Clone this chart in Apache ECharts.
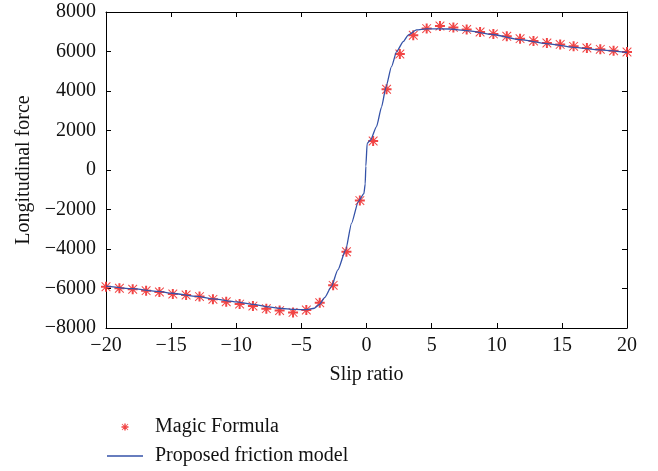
<!DOCTYPE html>
<html>
<head>
<meta charset="utf-8">
<script src="https://cdn.jsdelivr.net/npm/echarts@6/dist/echarts.min.js"></script>
<style>
html,body{margin:0;padding:0;background:#fff;}
#c{width:658px;height:471px;}
</style>
</head>
<body>
<div id="c"></div>
<script>
// Magic Formula samples (slip ratio, longitudinal force)
const mfX = [-20, -18.97, -17.95, -16.92, -15.90, -14.87, -13.85, -12.82, -11.79, -10.77,
  -9.74, -8.72, -7.69, -6.67, -5.64, -4.62, -3.59, -2.56, -1.54, -0.51,
  0.51, 1.54, 2.56, 3.59, 4.62, 5.64, 6.67, 7.69, 8.72, 9.74,
  10.77, 11.79, 12.82, 13.85, 14.87, 15.90, 16.92, 17.95, 18.97, 20];
const mfY = [-5910, -5990, -6040, -6110, -6180, -6280, -6330, -6410, -6550, -6670,
  -6790, -6890, -7020, -7120, -7210, -7090, -6720, -5840, -4140, -1550,
  1470, 4090, 5870, 6820, 7160, 7290, 7220, 7120, 6990, 6890,
  6770, 6650, 6530, 6430, 6360, 6260, 6180, 6110, 6040, 5975];

// Proposed friction model curve
const pmX = [-20, -18, -16, -14.9, -13, -11.8, -10, -8.7, -7.5, -6.7, -5.5, -4.6, -4.0, -3.6, -3.2,
  -2.7, -2.2, -1.6, -1.15, -0.63, -0.2, -0.1, -0.05, 0.05, 0.31, 0.77, 1.16, 1.5, 1.92, 2.31,
  2.82, 3.2, 3.84, 4.6, 6.4, 7.7, 9.7, 11.8, 13.8, 15.9, 17.9, 20];
const pmY = [-5880, -6010, -6150, -6240, -6400, -6530, -6680, -6800, -6930, -7000, -7060, -7070, -7000, -6800, -6450,
  -5900, -5060, -4050, -2700, -1600, -1200, -700, 200, 1350, 1520, 2200, 3200, 4220, 5230, 5990,
  6500, 6830, 7090, 7150, 7140, 7060, 6860, 6600, 6400, 6210, 6080, 5950];

const xTicks = {min: -20, max: 20, interval: 5};
const yTicks = {min: -8000, max: 8000, interval: 2000};

const seriesNames = ['Magic Formula', 'Proposed friction model'];
const axisTitles = {x: 'Slip ratio', y: 'Longitudinal force'};

const FONT = 'Liberation Serif';
const RED = '#f03030';
const BLUE = '#3452a8';
const fmt = v => (v < 0 ? '\u2212' + Math.abs(v) : String(v));
const star = 'path://M4,0L6,0L6,4L10,4L10,6L6,6L6,10L4,10L4,6L0,6L0,4L4,4Z' +
  'M1,0.3L9.7,9L9,9.7L0.3,1Z M9,0.3L9.7,1L1,9.7L0.3,9Z';
const lineIcon = 'path://M0,0L36,0L36,1.4L0,1.4Z';

const chart = echarts.init(document.getElementById('c'), null, {renderer: 'canvas'});
const axisLine = {show: true, onZero: false, lineStyle: {color: '#000', width: 1}};
const tick = {show: true, inside: true, length: 5, lineStyle: {color: '#000', width: 1}};
chart.setOption({
  backgroundColor: '#fff',
  animation: false,
  grid: {left: 106, right: 31, top: 12, bottom: 143, containLabel: false},
  xAxis: [
    {type: 'value', min: xTicks.min, max: xTicks.max, interval: xTicks.interval, position: 'bottom',
     name: axisTitles.x, nameLocation: 'middle', nameGap: 37,
     nameTextStyle: {fontFamily: FONT, fontSize: 20, color: '#111'},
     axisLine: axisLine, axisTick: tick, splitLine: {show: false},
     axisLabel: {formatter: fmt, fontFamily: FONT, fontSize: 20, color: '#111', margin: 8}},
    {type: 'value', min: xTicks.min, max: xTicks.max, interval: xTicks.interval, position: 'top',
     axisLine: axisLine, axisTick: tick, splitLine: {show: false}, axisLabel: {show: false}}
  ],
  yAxis: [
    {type: 'value', min: yTicks.min, max: yTicks.max, interval: yTicks.interval, position: 'left',
     name: axisTitles.y, nameLocation: 'middle', nameGap: 71,
     nameTextStyle: {fontFamily: FONT, fontSize: 20, color: '#111'},
     axisLine: axisLine, axisTick: tick, splitLine: {show: false},
     axisLabel: {formatter: fmt, fontFamily: FONT, fontSize: 20, color: '#111', margin: 10}},
    {type: 'value', min: yTicks.min, max: yTicks.max, interval: yTicks.interval, position: 'right',
     axisLine: axisLine, axisTick: tick, splitLine: {show: false}, axisLabel: {show: false}}
  ],
  legend: {
    orient: 'vertical', left: 107, top: 417, padding: 0,
    itemWidth: 36, itemHeight: 7, itemGap: 9,
    textStyle: {fontFamily: FONT, fontSize: 20, color: '#111', padding: [0, 0, 0, 7]},
    data: [
      {name: seriesNames[0], icon: star, itemStyle: {color: RED}},
      {name: seriesNames[1], icon: lineIcon, itemStyle: {color: BLUE}}
    ]
  },
  series: [
    {name: seriesNames[1], type: 'line', xAxisIndex: 0, yAxisIndex: 0,
     data: pmX.map((x, i) => [x, pmY[i]]), showSymbol: false, symbol: 'none',
     smooth: 0.2, smoothMonotone: 'x',
     lineStyle: {color: BLUE, width: 1.3}, itemStyle: {color: BLUE}, z: 3},
    {name: seriesNames[0], type: 'scatter', xAxisIndex: 0, yAxisIndex: 0,
     data: mfX.map((x, i) => [x, mfY[i]]), symbol: star, symbolSize: 10, symbolKeepAspect: true,
     itemStyle: {color: RED, opacity: 0.9}, z: 2}
  ]
});
</script>
</body>
</html>
